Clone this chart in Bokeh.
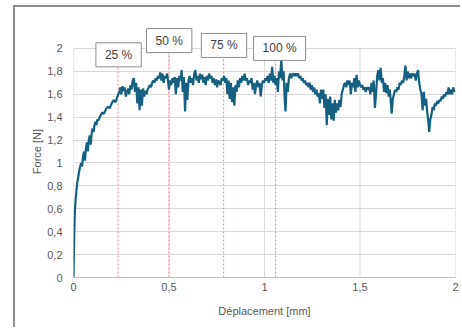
from bokeh.plotting import figure
from bokeh.models import Label, FixedTicker, Range1d
from bokeh.embed import file_html
from bokeh.resources import INLINE

# ---------------- data ----------------
disp = [
    0, 0.002, 0.004, 0.006, 0.008, 0.012, 0.016, 0.02, 0.025, 0.03,
    0.035, 0.04, 0.045, 0.05, 0.055, 0.06, 0.065, 0.07, 0.075, 0.08,
    0.085, 0.09, 0.095, 0.1, 0.105, 0.11, 0.115, 0.12, 0.125, 0.13,
    0.14, 0.15, 0.16, 0.17, 0.18, 0.19, 0.2, 0.21, 0.22, 0.23,
    0.24,
    0.245, 0.25, 0.256, 0.262, 0.268, 0.274, 0.28, 0.286, 0.292, 0.298,
    0.304, 0.31, 0.316, 0.322, 0.328, 0.334, 0.34, 0.346, 0.352, 0.358,
    0.364, 0.37, 0.376, 0.382, 0.388, 0.394, 0.4, 0.406, 0.412, 0.418,
    0.424, 0.43, 0.436, 0.442, 0.448, 0.454, 0.46,
    0.466, 0.472, 0.478, 0.484, 0.49, 0.496, 0.5, 0.506, 0.512, 0.518,
    0.524, 0.53, 0.536, 0.542, 0.548, 0.554, 0.56, 0.566, 0.572, 0.578,
    0.584, 0.59, 0.596, 0.602, 0.608, 0.614, 0.62, 0.626, 0.632, 0.638,
    0.644, 0.65, 0.656, 0.662, 0.668, 0.674, 0.68, 0.686, 0.692, 0.698,
    0.704, 0.71, 0.716, 0.722, 0.728, 0.734, 0.74, 0.746, 0.752, 0.758,
    0.764, 0.77, 0.776, 0.782, 0.788, 0.794,
    0.8, 0.806, 0.812, 0.818, 0.824, 0.83, 0.836, 0.842, 0.848, 0.854,
    0.86, 0.866, 0.872, 0.878, 0.884, 0.89, 0.896, 0.902, 0.908, 0.914,
    0.92, 0.926, 0.932, 0.938, 0.944, 0.95, 0.956, 0.962, 0.968, 0.974,
    0.98, 0.986, 0.992, 0.998, 1.004, 1.01, 1.016, 1.022, 1.028, 1.034,
    1.04, 1.046, 1.052, 1.058, 1.064, 1.07, 1.076, 1.082, 1.088, 1.094,
    1.1, 1.106, 1.11, 1.116, 1.122, 1.128, 1.134, 1.14, 1.146, 1.152,
    1.158, 1.164, 1.17, 1.176, 1.182, 1.188, 1.194, 1.2,
    1.206, 1.212, 1.218, 1.224, 1.23, 1.236, 1.242, 1.248, 1.254, 1.26,
    1.266, 1.272, 1.278, 1.284, 1.29, 1.296, 1.302, 1.308, 1.314, 1.32,
    1.326, 1.332, 1.338, 1.344, 1.35, 1.356, 1.362, 1.368, 1.374, 1.38,
    1.386, 1.392, 1.398, 1.404, 1.41, 1.416, 1.422, 1.428, 1.434, 1.44,
    1.446, 1.452, 1.458, 1.464, 1.47, 1.476, 1.482, 1.488, 1.494, 1.5,
    1.506, 1.512, 1.518, 1.524, 1.53, 1.536, 1.542, 1.548, 1.554, 1.56,
    1.566, 1.572, 1.578, 1.584, 1.59, 1.596, 1.602, 1.608,
    1.614, 1.62, 1.626, 1.632, 1.638, 1.644, 1.65, 1.656, 1.662, 1.666,
    1.672, 1.678, 1.684, 1.69, 1.696, 1.702, 1.708, 1.714, 1.72, 1.726,
    1.732, 1.738, 1.744, 1.75, 1.756, 1.762, 1.768, 1.774, 1.78, 1.786,
    1.792, 1.798, 1.804, 1.81, 1.816, 1.822, 1.828, 1.834, 1.84, 1.846,
    1.852, 1.858, 1.862, 1.868, 1.874, 1.88, 1.886, 1.892, 1.898, 1.904,
    1.91, 1.916, 1.922, 1.928, 1.934, 1.94, 1.946, 1.952, 1.958, 1.964,
    1.97, 1.976, 1.982, 1.988, 1.994,
]
force = [
    0, 0.2, 0.38, 0.52, 0.6, 0.7, 0.77, 0.83, 0.88, 0.93,
    0.97, 1.0, 0.97, 1.06, 1.1, 1.02, 1.12, 1.18, 1.1, 1.2,
    1.24, 1.16, 1.26, 1.3, 1.27, 1.33, 1.36, 1.33, 1.38, 1.37,
    1.41, 1.44, 1.43, 1.47, 1.49, 1.48, 1.52, 1.55, 1.53, 1.58,
    1.62,
    1.66, 1.6, 1.67, 1.63, 1.66, 1.58, 1.62, 1.65, 1.6, 1.68,
    1.64, 1.72, 1.74, 1.62, 1.7, 1.52, 1.66, 1.46, 1.64, 1.5,
    1.65, 1.58, 1.63, 1.6, 1.64, 1.66, 1.68, 1.66, 1.7, 1.72,
    1.7, 1.74, 1.72, 1.76, 1.74, 1.79, 1.72,
    1.78, 1.70, 1.76, 1.74, 1.78, 1.70, 1.64, 1.72, 1.68, 1.74,
    1.7, 1.75, 1.6, 1.74, 1.66, 1.76, 1.72, 1.81, 1.62, 1.75,
    1.45, 1.7, 1.55, 1.72, 1.76, 1.7, 1.74, 1.68, 1.78, 1.81,
    1.72, 1.76, 1.7, 1.78, 1.73, 1.77, 1.7, 1.75, 1.68, 1.76,
    1.72, 1.78, 1.74, 1.76, 1.7, 1.74, 1.68, 1.73, 1.66, 1.72,
    1.7, 1.68, 1.74, 1.72, 1.76, 1.70,
    1.74, 1.6, 1.72, 1.56, 1.7, 1.53, 1.66, 1.5, 1.68, 1.62,
    1.72, 1.66, 1.74, 1.7, 1.76, 1.72, 1.78, 1.72, 1.74, 1.68,
    1.72, 1.7, 1.74, 1.64, 1.7, 1.6, 1.68, 1.72, 1.66, 1.7,
    1.58, 1.68, 1.72, 1.7, 1.74, 1.72, 1.76, 1.7, 1.78, 1.72,
    1.84, 1.7, 1.76, 1.68, 1.74, 1.62, 1.8, 1.74, 1.91, 1.72,
    1.8, 1.55, 1.45, 1.7, 1.62, 1.74, 1.78, 1.74, 1.77, 1.78,
    1.76, 1.78, 1.76, 1.78, 1.74, 1.76, 1.72, 1.74,
    1.7, 1.72, 1.68, 1.7, 1.66, 1.7, 1.64, 1.68, 1.62, 1.66,
    1.6, 1.64, 1.58, 1.61, 1.52, 1.64, 1.56, 1.64, 1.48, 1.6,
    1.33, 1.56, 1.42, 1.58, 1.38, 1.52, 1.37, 1.55, 1.44, 1.52,
    1.46, 1.55, 1.49, 1.6, 1.64, 1.68, 1.7, 1.66, 1.72, 1.68,
    1.72, 1.6, 1.7, 1.66, 1.74, 1.62, 1.77, 1.66, 1.72, 1.68,
    1.66, 1.68, 1.64, 1.66, 1.62, 1.66, 1.64, 1.66, 1.6, 1.7,
    1.62, 1.72, 1.48, 1.6, 1.76, 1.81, 1.72, 1.83,
    1.7, 1.74, 1.62, 1.7, 1.61, 1.68, 1.58, 1.64, 1.52, 1.43,
    1.56, 1.6, 1.64, 1.62, 1.66, 1.64, 1.7, 1.68, 1.72, 1.7,
    1.76, 1.85, 1.72, 1.8, 1.74, 1.78, 1.74, 1.78, 1.76, 1.78,
    1.72, 1.78, 1.81, 1.7, 1.64, 1.6, 1.46, 1.62, 1.5, 1.56,
    1.44, 1.36, 1.27, 1.38, 1.42, 1.49, 1.46, 1.52, 1.5, 1.54,
    1.52, 1.55, 1.54, 1.58, 1.56, 1.6, 1.58, 1.62, 1.6, 1.66,
    1.6, 1.64, 1.6, 1.66, 1.62,
]

marker_labels = ["25 %", "50 %", "75 %", "100 %"]
marker_disp = [0.233, 0.5, 0.786, 1.058]

x_ticks = [0, 0.5, 1, 1.5, 2]
x_tick_labels = ["0", "0,5", "1", "1,5", "2"]
y_ticks = [0, 0.2, 0.4, 0.6, 0.8, 1, 1.2, 1.4, 1.6, 1.8, 2]
y_tick_labels = ["0", "0,2", "0,4", "0,6", "0,8", "1", "1,2", "1,4", "1,6", "1,8", "2"]

# ---------------- layout / style ----------------
box_centers_x = [0.236, 0.501, 0.788, 1.079]
box_centers_y = [1.944, 2.068, 2.026, 2.0]
line_tops = [1.84, 1.965, 1.92, 1.895]
Y_TOP = 2.2   # room above the plot for the annotation boxes

FONT = "Liberation Sans"
TXT = "#595959"
GRID = "#d9d9d9"

p = figure(width=447, height=322, output_backend="svg", toolbar_location=None,
           x_range=Range1d(0, 2), y_range=Range1d(0, Y_TOP),
           min_border_left=58, min_border_right=7, min_border_top=18, min_border_bottom=52)
p.margin = (5, 0, 0, 13)
p.styles = {"border-left": "2px solid #8c8c8c", "border-top": "2px solid #8c8c8c"}
p.outline_line_color = None
p.background_fill_color = "white"
p.border_fill_color = "white"

p.xaxis.ticker = FixedTicker(ticks=x_ticks)
p.yaxis.ticker = FixedTicker(ticks=y_ticks)
p.xaxis.major_label_overrides = dict(zip(x_ticks, x_tick_labels))
p.yaxis.major_label_overrides = dict(zip(y_ticks, y_tick_labels))
p.xgrid.visible = False
p.ygrid.ticker = FixedTicker(ticks=y_ticks)
p.ygrid.grid_line_color = GRID

for ax in (p.xaxis, p.yaxis):
    ax.major_tick_line_color = None
    ax.minor_tick_line_color = None
    ax.major_tick_out = 0
    ax.major_tick_in = 0
    ax.minor_tick_out = 0
    ax.minor_tick_in = 0
    ax.major_label_text_font = FONT
    ax.major_label_text_font_size = "11px"
    ax.major_label_text_color = TXT
    ax.axis_label_text_font = FONT
    ax.axis_label_text_font_size = "11px"
    ax.axis_label_text_color = TXT
    ax.axis_label_text_font_style = "normal"

p.xaxis.axis_line_color = "#bfbfbf"
p.yaxis.axis_line_color = None
p.xaxis.major_label_standoff = 5
p.yaxis.major_label_standoff = 11
p.xaxis.axis_label = "Déplacement [mm]"
p.yaxis.axis_label = "Force [N]"
p.xaxis.axis_label_standoff = 11
p.yaxis.axis_label_standoff = 1

# vertical grid lines, stopping at the top of the value scale
p.segment(x0=x_ticks, y0=[0] * len(x_ticks), x1=x_ticks, y1=[y_ticks[-1]] * len(x_ticks),
          line_color=GRID, line_width=1)

# dotted markers
p.segment(x0=marker_disp, y0=[0] * len(marker_disp), x1=marker_disp, y1=line_tops,
          line_color="#ff7c80", line_width=1, line_dash="2 2")

# curve
p.line(disp, force, line_color="#156082", line_width=2.2)

# annotation boxes
for t, bx, by in zip(marker_labels, box_centers_x, box_centers_y):
    p.add_layout(Label(x=bx, y=by, text=t, text_align="center", text_baseline="middle",
                       text_font=FONT, text_font_size="12px", text_color="#404040",
                       background_fill_color="white", border_line_color="#8c8c8c",
                       border_line_width=1, padding=(9, 5)))

open("out.html", "w").write(file_html(p, INLINE))
